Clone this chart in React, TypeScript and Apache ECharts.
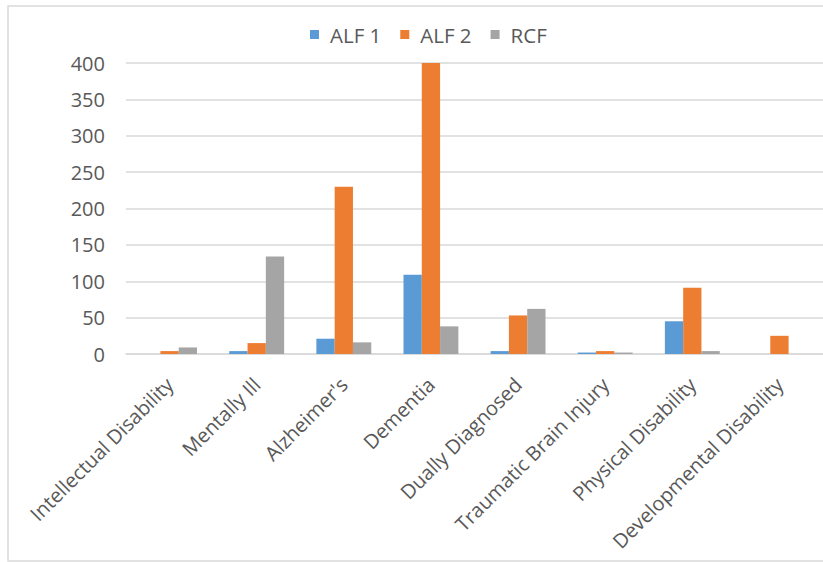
import React, { useEffect, useRef } from "react";
import * as echarts from "echarts";

const categories = [
  "Intellectual Disability",
  "Mentally Ill",
  "Alzheimer's",
  "Dementia",
  "Dually Diagnosed",
  "Traumatic Brain Injury",
  "Physical Disability",
  "Developmental Disability",
];
const alf1 = [0, 4, 21, 109, 4, 2, 45, 0];
const alf2 = [4, 15, 230, 400, 53, 4, 91, 25];
const rcf = [9, 134, 16, 38, 62, 2, 4, 0];
const seriesNames = ["ALF 1", "ALF 2", "RCF"];
const colors = ["#5B9BD5", "#ED7D31", "#A5A5A5"];

export default function App() {
  const ref = useRef<HTMLDivElement>(null);
  useEffect(() => {
    if (!ref.current) return;
    const chart = echarts.init(ref.current, undefined, { renderer: "svg" });
    const font = "'Open Sans', 'Noto Sans', sans-serif";
    const data = [alf1, alf2, rcf];
    chart.setOption({
      animation: false,
      backgroundColor: "#ffffff",
      textStyle: { fontFamily: font },
      graphic: [
        {
          type: "rect",
          shape: { x: 8, y: 6, width: 840, height: 555 },
          style: { fill: "none", stroke: "#d9d9d9", lineWidth: 1.5 },
          silent: true,
        },
      ],
      legend: {
        top: 19,
        left: 305,
        itemWidth: 9,
        itemHeight: 9,
        itemGap: 19,
        icon: "rect",
        textStyle: {
          fontSize: 20.5,
          color: "#595959",
          fontFamily: font,
          padding: [0, 0, 0, 6],
        },
        data: seriesNames,
      },
      grid: { left: 126, top: 63, width: 709, height: 291, containLabel: false },
      xAxis: {
        type: "category",
        data: categories,
        axisLine: { lineStyle: { color: "#d9d9d9", width: 1.5 } },
        axisTick: { show: false },
        axisLabel: {
          rotate: 45,
          interval: 0,
          fontSize: 20,
          color: "#595959",
          fontFamily: font,
          margin: 27,
        },
      },
      yAxis: {
        type: "value",
        min: 0,
        max: 400,
        interval: 50,
        axisLine: { show: false },
        axisTick: { show: false },
        splitLine: { lineStyle: { color: "#d9d9d9", width: 1.5 } },
        axisLabel: { fontSize: 20, color: "#595959", fontFamily: font, margin: 21 },
      },
      series: seriesNames.map((name, i) => ({
        name,
        type: "bar",
        data: data[i],
        barGap: "0%",
        barCategoryGap: "37%",
        itemStyle: { color: colors[i] },
      })),
    });
    return () => chart.dispose();
  }, []);
  return (
    <div
      ref={ref}
      style={{ position: "fixed", left: 0, top: 0, width: 823, height: 562 }}
    />
  );
}
